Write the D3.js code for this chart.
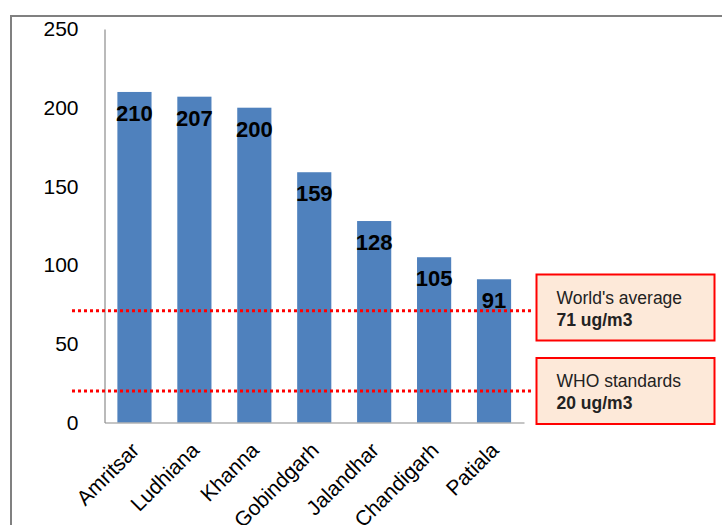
<!DOCTYPE html>
<html>
<head>
<meta charset="utf-8">
<script src="https://cdn.jsdelivr.net/npm/d3@7"></script>
<style>
  body { margin: 0; background: #fff; }
  text { font-family: "Liberation Sans", Arial, sans-serif; }
</style>
</head>
<body>
<div id="canvas"></div>
<script>
// Data of the chart
const cities = ["Amritsar", "Ludhiana", "Khanna", "Gobindgarh", "Jalandhar", "Chandigarh", "Patiala"];
const pm10 = [210, 207, 200, 159, 128, 105, 91];
const yTicks = [0, 50, 100, 150, 200, 250];
const refValues = [71, 20];
const refTitles = ["World's average", "WHO standards"];
const refUnits = ["71 ug/m3", "20 ug/m3"];

const width = 722;
const height = 525;
const margin = {top: 29, left: 104.5, bottom: 102.5, right: 198};
const iwidth = width - margin.left - margin.right;
const iheight = height - margin.top - margin.bottom;

const svg = d3.select("#canvas").append("svg")
    .attr("width", width)
    .attr("height", height);

// Frame around the slide area
svg.append("path")
    .attr("d", `M11,${height} L11,16 L${width},16`)
    .attr("fill", "none")
    .attr("stroke", "#808080")
    .attr("stroke-width", 2);

const g = svg.append("g")
    .attr("transform", `translate(${margin.left}, ${margin.top})`);

const x = d3.scaleBand()
    .domain(cities)
    .range([0, iwidth])
    .paddingInner(0.43)
    .paddingOuter(0.215);

const y = d3.scaleLinear()
    .domain([0, 250])
    .range([iheight, 0]);

// Bars
g.selectAll("rect.bar")
    .data(pm10)
    .enter()
    .append("rect")
    .attr("class", "bar")
    .attr("x", (d, i) => x(cities[i]))
    .attr("y", d => y(d))
    .attr("width", x.bandwidth())
    .attr("height", d => iheight - y(d))
    .attr("fill", "#4F81BD");

// Y axis
const yAxis = g.append("g")
    .call(d3.axisLeft(y).tickValues(yTicks).tickSize(0).tickPadding(26));
yAxis.select(".domain").attr("stroke", "#8c8c8c").attr("stroke-width", 1.2);
yAxis.selectAll("text")
    .style("font-size", "21px")
    .style("font-family", "'Liberation Sans', Arial, sans-serif")
    .attr("fill", "#000");

// X axis
const xAxis = g.append("g")
    .attr("transform", `translate(0, ${iheight})`)
    .call(d3.axisBottom(x).tickSize(0).tickSizeOuter(0));
xAxis.select(".domain").attr("stroke", "#8c8c8c").attr("stroke-width", 1.2);
xAxis.selectAll("text")
    .style("font-size", "21px")
    .style("font-family", "'Liberation Sans', Arial, sans-serif")
    .attr("fill", "#000")
    .attr("text-anchor", "end")
    .attr("x", 0)
    .attr("y", 0)
    .attr("dy", 0)
    .attr("transform", "translate(6, 29) rotate(-45)");

// Value labels
g.selectAll("text.value")
    .data(pm10)
    .enter()
    .append("text")
    .attr("class", "value")
    .attr("x", (d, i) => x(cities[i]) + x.bandwidth() / 2)
    .attr("y", d => y(d) + 29)
    .attr("text-anchor", "middle")
    .style("font-size", "22px")
    .style("font-weight", "bold")
    .attr("fill", "#000")
    .text(d => d);

// Reference lines (dotted red)
const lineStart = 72 - margin.left;
const lineEnd = 534 - margin.left;
g.selectAll("line.ref")
    .data(refValues)
    .enter()
    .append("line")
    .attr("class", "ref")
    .attr("x1", lineStart)
    .attr("x2", lineEnd)
    .attr("y1", d => y(d))
    .attr("y2", d => y(d))
    .attr("stroke", "#FF0000")
    .attr("stroke-width", 3)
    .attr("stroke-dasharray", "3,3");

// Callout boxes
const boxX = 536.5;
const boxW = 178;
const boxH = 66;
const boxTops = [274.5, 358];
const boxes = svg.selectAll("g.callout")
    .data(refValues)
    .enter()
    .append("g")
    .attr("class", "callout")
    .attr("transform", (d, i) => `translate(${boxX}, ${boxTops[i]})`);

boxes.append("rect")
    .attr("width", boxW)
    .attr("height", boxH)
    .attr("fill", "#FDE9D9")
    .attr("stroke", "#FF0000")
    .attr("stroke-width", 2);

boxes.append("text")
    .attr("x", 20)
    .attr("y", 29)
    .style("font-size", "17.5px")
    .attr("fill", "#222")
    .text((d, i) => refTitles[i]);

boxes.append("text")
    .attr("x", 20)
    .attr("y", 51)
    .style("font-size", "17.5px")
    .style("font-weight", "bold")
    .attr("fill", "#222")
    .text((d, i) => refUnits[i]);
</script>
</body>
</html>
